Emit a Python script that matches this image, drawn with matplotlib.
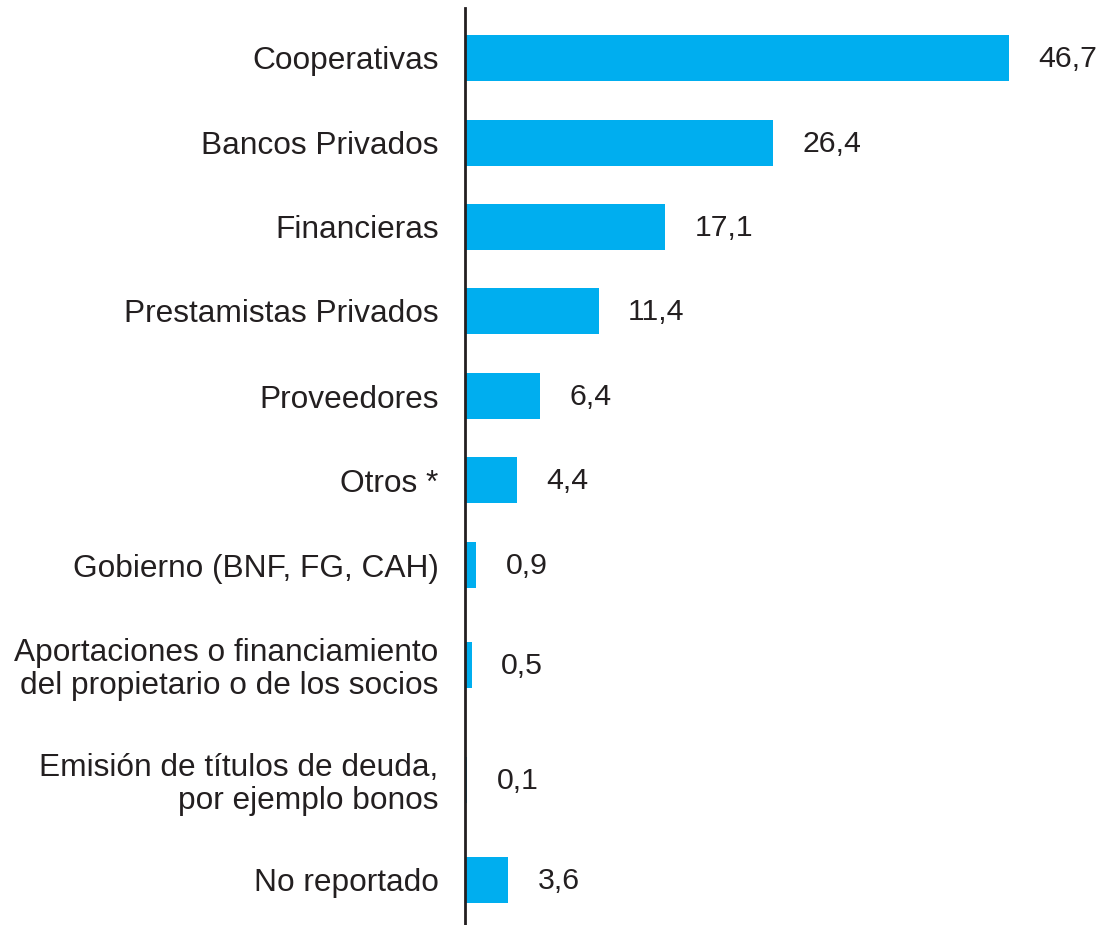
import matplotlib
matplotlib.use("Agg")
import matplotlib.pyplot as plt

categories = [
    "Cooperativas",
    "Bancos Privados",
    "Financieras",
    "Prestamistas Privados",
    "Proveedores",
    "Otros *",
    "Gobierno (BNF, FG, CAH)",
    "Aportaciones o financiamiento\ndel propietario o de los socios",
    "Emisión de títulos de deuda,\npor ejemplo bonos",
    "No reportado",
]
values = [46.7, 26.4, 17.1, 11.4, 6.4, 4.4, 0.9, 0.5, 0.1, 3.6]
value_labels = ["46,7", "26,4", "17,1", "11,4", "6,4", "4,4", "0,9", "0,5", "0,1", "3,6"]

# layout: bar centres in pixel rows measured from the top of the axes
positions = [50, 135, 219, 303, 388, 472, 557, 657, 772, 872]

W, H = 1107, 925
fig = plt.figure(figsize=(W / 100, H / 100), dpi=100)
plt.rcParams['font.family'] = ['Liberation Sans', 'DejaVu Sans']

left_px, right_px, top_px = 465, 1107, 8
ax = fig.add_axes([left_px / W, 0, (right_px - left_px) / W, (H - top_px) / H])
px_per_unit = 11.63
ax.set_xlim(0, (right_px - left_px) / px_per_unit)
ax.set_ylim(H - top_px, 0)

text_color = "#231F20"
ax.barh(positions, values, height=46, color="#00AEEF", left=0.08)

for y, v, lab in zip(positions, values, value_labels):
    ax.annotate(lab, xy=(v, y), xytext=(22, -1), textcoords="offset points",
                va="center", ha="left", fontsize=21.8, color=text_color)

ax.set_yticks(positions)
ax.set_yticklabels(categories, fontsize=22.8, color=text_color, linespacing=1.1)
ax.tick_params(axis="y", length=0, pad=19)
ax.set_xticks([])

for s in ["top", "right", "bottom"]:
    ax.spines[s].set_visible(False)
ax.spines["left"].set_color(text_color)
ax.spines["left"].set_linewidth(2)

fig.savefig("out.png", dpi=100)
